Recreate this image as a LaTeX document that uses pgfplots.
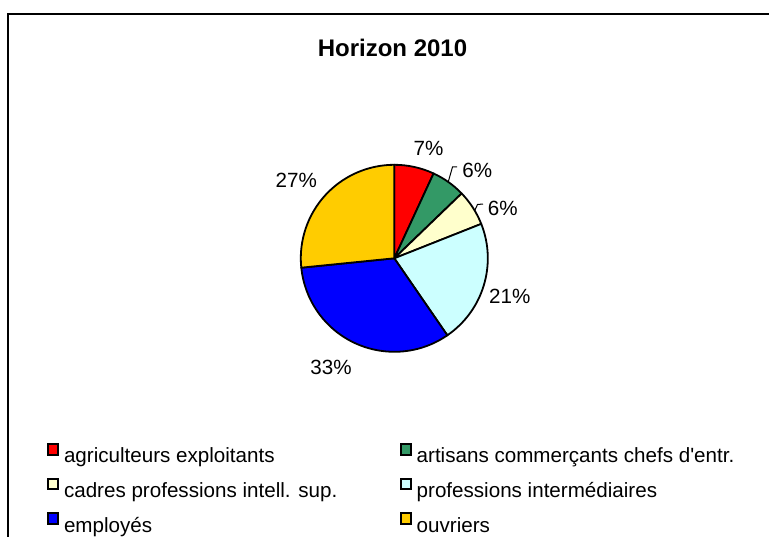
\documentclass[border=0pt]{standalone}
\usepackage{fontspec}
\setmainfont{Liberation Sans}
\usepackage{pgfplots}
\pgfplotsset{compat=1.18}
\definecolor{cRed}{RGB}{255,0,0}
\definecolor{cGreen}{RGB}{51,153,102}
\definecolor{cCream}{RGB}{255,255,204}
\definecolor{cCyan}{RGB}{204,255,255}
\definecolor{cBlue}{RGB}{0,0,255}
\definecolor{cGold}{RGB}{255,204,0}
\begin{document}
\begin{tikzpicture}
\begin{axis}[
  x=0.5pt, y=0.5pt, xmin=0, xmax=769, ymin=0, ymax=536,
  hide axis, clip=false, scale only axis,
  legend columns=2,
  legend image code/.code={\path[#1, draw=none] (0pt,0.75pt) rectangle (5pt,6.1pt);
     \path[draw=black, fill=none, line width=1pt] (0pt,0.75pt) rectangle (5pt,6.1pt);},
  legend style={draw=none, fill=none, inner sep=0pt, outer sep=0pt,
     at={(0.06112,0.17351)}, anchor=north west,
     font=\fontsize{10.3}{12}\selectfont,
     nodes={inner sep=0pt, text height=9.5pt, text depth=3pt},
     row sep=4.5pt,
     /tikz/every odd column/.style={column sep=2.5pt},
     /tikz/every even column/.style={column sep=31.2pt}},
  legend cell align=left,
]
% pie data (percent of total, clockwise from 12 o'clock)
\def\acc{0}
\foreach \v/\c in {6.9/cRed,5.9/cGreen,6.2/cCream,21.4/cCyan,33.0/cBlue,26.6/cGold}{
  \pgfmathsetmacro\a{90-3.6*\acc}
  \pgfmathsetmacro\b{90-3.6*(\acc+\v)}
  \edef\doslice{\noexpand\filldraw[fill=\c, draw=black, line width=0.9pt, line join=round] (axis cs:394.3,277.7) -- ++(\a:46.75pt) arc[start angle=\a, end angle=\b, radius=46.75pt] -- cycle;}
  \doslice
  \pgfmathsetmacro\n{\acc+\v}
  \global\let\acc\n
}
\addlegendimage{fill=cRed}\addlegendentry{agriculteurs exploitants}
\addlegendimage{fill=cGreen}\addlegendentry{artisans commerçants chefs d\textquotesingle entr.}
\addlegendimage{fill=cCream}\addlegendentry{cadres professions intell. sup.}
\addlegendimage{fill=cCyan}\addlegendentry{professions intermédiaires}
\addlegendimage{fill=cBlue}\addlegendentry{employés}
\addlegendimage{fill=cGold}\addlegendentry{ouvriers}
% labels
\begin{scope}[every node/.style={font=\fontsize{10.3}{12}\selectfont, inner sep=0pt}]
\node at (axis cs:428.5,387.7) {7\%};
\node at (axis cs:477.3,365.5) {6\%};
\node at (axis cs:502.8,327.2) {6\%};
\node at (axis cs:509.7,239.5) {21\%};
\node at (axis cs:331,169) {33\%};
\node at (axis cs:296.3,355.7) {27\%};
\end{scope}
\draw[line width=0.5pt] (axis cs:448.5,355) -- (axis cs:452.5,369) -- (axis cs:457,369);
\draw[line width=0.5pt] (axis cs:474.5,325) -- (axis cs:477.5,331.5) -- (axis cs:483,332);
\node[font=\fontsize{12}{14}\selectfont\bfseries, inner sep=0pt] at (axis cs:392.5,488) {Horizon 2010};
\draw[line width=1pt] (axis cs:8.3,-10) -- (axis cs:8.3,521.7) -- (axis cs:790,521.7);
\coordinate (BL) at (axis cs:0,0);
\coordinate (TR) at (axis cs:769,536);
\end{axis}
\pgfresetboundingbox
\path[use as bounding box] (BL) rectangle (TR);
\end{tikzpicture}
\end{document}
